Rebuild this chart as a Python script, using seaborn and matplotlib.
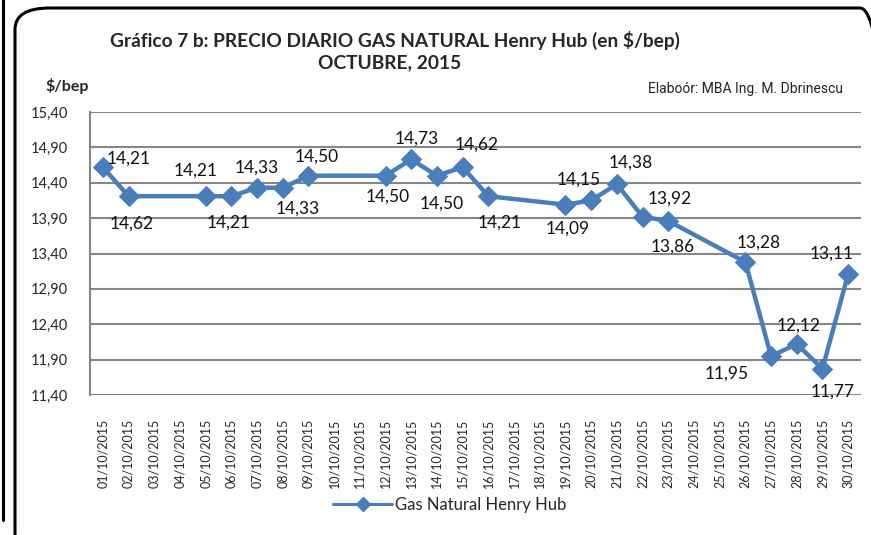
import numpy as np
import pandas as pd
import matplotlib.pyplot as plt
import seaborn as sns
from matplotlib.patches import FancyBboxPatch
from matplotlib.lines import Line2D

# daily Henry Hub price, october 2015
days = [1, 2, 5, 6, 7, 8, 9, 12, 13, 14, 15, 16, 19, 20, 21, 22, 23, 26, 27, 28, 29, 30]
prices = [14.62, 14.21, 14.21, 14.21, 14.33, 14.33, 14.50, 14.50, 14.73, 14.50, 14.62,
          14.21, 14.09, 14.15, 14.38, 13.92, 13.86, 13.28, 11.95, 12.12, 11.77, 13.11]
# label texts as printed on the chart
point_labels = ["14,21", "14,62", "14,21", "14,21", "14,33", "14,33", "14,50", "14,50",
                "14,73", "14,50", "14,62", "14,21", "14,09", "14,15", "14,38", "13,92",
                "13,86", "13,28", "11,95", "12,12", "11,77", "13,11"]
tick_labels = ["%02d/10/2015" % d for d in range(1, 31)]
y_ticks = [11.40, 11.90, 12.40, 12.90, 13.40, 13.90, 14.40, 14.90, 15.40]

# label offsets in pixels (dx, dy up)
offsets = [(26, 9), (3, -27), (-10, 26), (-3, -26), (0, 20), (15, -21), (8, 19), (2, -21),
           (5, 21), (5, -28), (14, 23), (11, -26), (2, -24), (-12, 21), (14, 22), (27, 18),
           (4, -26), (13, 19), (-44, -18), (2, 18), (10, -23), (-17, 20)]

df = pd.DataFrame({'day': days, 'price': prices})

sns.set_style('white')
plt.rcParams['font.family'] = ['Lato', 'DejaVu Sans']

fig = plt.figure(figsize=(8.71, 5.35), dpi=100)
ax = fig.add_axes([90 / 871, 1 - 395 / 535, 771 / 871, 283 / 535])

blue = '#4A7EBB'
sns.lineplot(data=df, x='day', y='price', color=blue, linewidth=3.2, marker='D',
             markersize=10, markeredgecolor=blue, ax=ax, legend=False)

ax.set_xlim(0.5, 30.5)
ax.set_ylim(11.40, 15.40)
ax.set_xticks(range(1, 31))
ax.set_xticklabels(tick_labels, rotation=90, fontsize=9)
ax.set_yticks(y_ticks)
ax.set_yticklabels([("%.2f" % v).replace('.', ',') for v in y_ticks], fontsize=10.5)
ax.tick_params(axis='y', pad=16, length=0)
ax.tick_params(axis='x', pad=17, length=0)
ax.set_xlabel('')
ax.set_ylabel('')
ax.grid(axis='y', color='#868686', linewidth=1.5)
ax.set_axisbelow(True)
for side in ['top', 'right', 'bottom', 'left']:
    ax.spines[side].set_visible(False)
ax.spines['left'].set_visible(True)
ax.spines['left'].set_color('#868686')
ax.spines['left'].set_linewidth(1.5)

for d, p, lab, (dx, dy) in zip(days, prices, point_labels, offsets):
    ax.annotate(lab, (d, p), xytext=(dx * 0.72, dy * 0.72), textcoords='offset points',
                ha='center', va='center', fontsize=12.5, color='#111111')

# titles
fig.text(395 / 871, 1 - 40 / 535, 'Gráfico 7 b: PRECIO DIARIO GAS NATURAL Henry Hub (en $/bep)',
         ha='center', va='center', fontsize=13.8, fontweight='bold')
fig.text(390 / 871, 1 - 63 / 535, 'OCTUBRE, 2015', ha='center', va='center',
         fontsize=13.8, fontweight='bold')
fig.text(45 / 871, 1 - 86 / 535, '$/bep', ha='left', va='center', fontsize=11.5, fontweight='bold')
fig.text(843 / 871, 1 - 89 / 535, 'Elaboór: MBA Ing. M. Dbrinescu', ha='right', va='center',
         fontsize=10, color='#222222', family=['Liberation Sans Narrow', 'Roboto', 'DejaVu Sans'])

# legend
handle = Line2D([], [], color=blue, linewidth=2.2, marker='D', markersize=7)
fig.legend([handle], ['Gas Natural Henry Hub'], loc='center', bbox_to_anchor=(450 / 871, 1 - 505 / 535),
           frameon=False, fontsize=12, handlelength=3.5, handletextpad=0.2)

# rounded border
box = FancyBboxPatch((15 / 871, -20 / 535), 880 / 871, 547 / 535,
                     boxstyle='round,pad=0,rounding_size=0.04', transform=fig.transFigure,
                     fill=False, edgecolor='black', linewidth=2.2, clip_on=False)
fig.patches.append(box)
fig.add_artist(Line2D([3 / 871, 3 / 871], [1, 1 - 520 / 535], transform=fig.transFigure,
                      color='black', linewidth=2.2))

plt.savefig('out.png', dpi=100)
